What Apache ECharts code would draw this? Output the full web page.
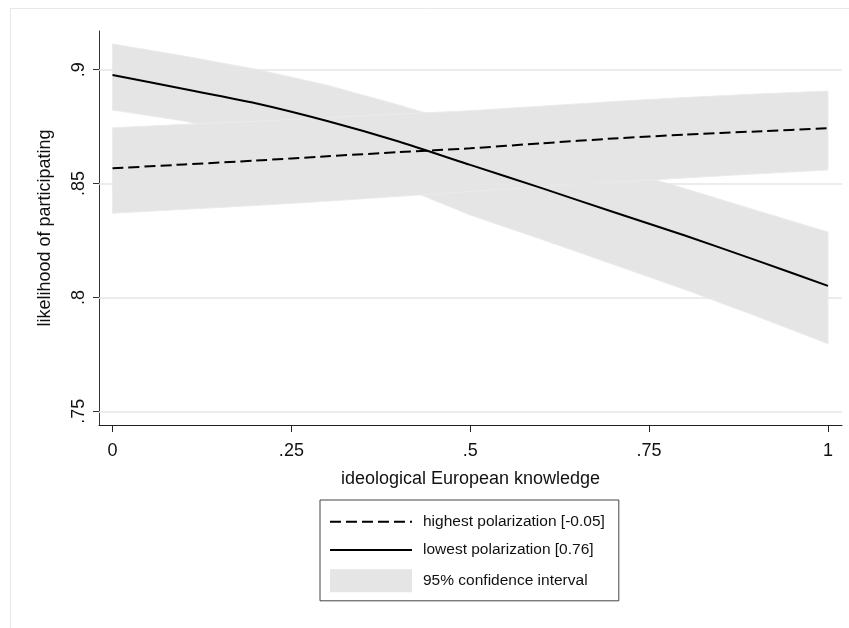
<!DOCTYPE html>
<html>
<head>
<meta charset="utf-8">
<script src="https://cdn.jsdelivr.net/npm/echarts@6/dist/echarts.min.js"></script>
<style>html,body{margin:0;padding:0;background:#fff;}#chart{width:849px;height:628px;}</style>
</head>
<body>
<div id="chart"></div>
<script>
// ---- data ----
const xValues = [0, 0.1, 0.2, 0.3, 0.4, 0.5, 0.6, 0.7, 0.8, 0.9, 1];
const highestLine  = [0.8567, 0.8584, 0.8601, 0.8620, 0.8638, 0.8655, 0.8677, 0.8698, 0.8715, 0.8729, 0.8743];
const highestUpper = [0.8745, 0.8760, 0.8773, 0.8790, 0.8805, 0.8820, 0.8840, 0.8860, 0.8878, 0.8893, 0.8906];
const highestLower = [0.8370, 0.8387, 0.8404, 0.8423, 0.8444, 0.8465, 0.8485, 0.8506, 0.8525, 0.8543, 0.8560];
const lowestLine   = [0.8977, 0.8915, 0.8853, 0.8775, 0.8685, 0.8582, 0.8480, 0.8375, 0.8272, 0.8163, 0.8051];
const lowestUpper  = [0.9113, 0.9060, 0.9002, 0.8932, 0.8845, 0.8752, 0.8660, 0.8570, 0.8478, 0.8382, 0.8287];
const lowestLower  = [0.8823, 0.8775, 0.8705, 0.8610, 0.8490, 0.8362, 0.8255, 0.8145, 0.8035, 0.7918, 0.7797];
const xTickValues = [0, 0.25, 0.5, 0.75, 1];
const yTickValues = [0.75, 0.8, 0.85, 0.9];
const seriesNames = ['highest polarization [-0.05]', 'lowest polarization [0.76]', '95% confidence interval'];
const xTitle = 'ideological European knowledge';
const yTitle = 'likelihood of participating';

const FONT = '"Liberation Sans", Arial, Helvetica, sans-serif';
const fmt = v => {
  let s = String(+v.toFixed(4));
  return s.replace(/^0\./, '.');
};
const pairs = arr => xValues.map((x, i) => [x, arr[i]]);

function bandSeries(upper, lower) {
  return {
    type: 'custom',
    name: seriesNames[2],
    z: 2,
    silent: true,
    itemStyle: { color: '#e5e5e5' },
    data: [[0, lower[0]]],
    renderItem: function (params, api) {
      const pts = [];
      for (let i = 0; i < xValues.length; i++) pts.push(api.coord([xValues[i], upper[i]]));
      for (let i = xValues.length - 1; i >= 0; i--) pts.push(api.coord([xValues[i], lower[i]]));
      return {
        type: 'polygon',
        shape: { points: pts },
        style: { fill: '#e5e5e5', stroke: '#ebebeb', lineWidth: 1 }
      };
    }
  };
}

const hiddenSymbol = { color: 'rgba(0,0,0,0)', borderWidth: 0, opacity: 0 };

const chart = echarts.init(document.getElementById('chart'), null, { renderer: 'canvas' });
chart.setOption({
  animation: false,
  backgroundColor: '#fff',
  textStyle: { fontFamily: FONT },
  graphic: [{
    type: 'rect', silent: true, z: -10,
    shape: { x: 10.5, y: 8.5, width: 900, height: 700 },
    style: { fill: 'none', stroke: '#e8e8e8', lineWidth: 1 }
  }],
  grid: { left: 99, top: 31, right: 7, bottom: 203, containLabel: false },
  xAxis: {
    type: 'value',
    min: -0.0189, max: 1.0196,
    name: xTitle,
    nameLocation: 'middle',
    nameGap: 45,
    nameTextStyle: { fontSize: 18, color: '#111', fontFamily: FONT },
    axisLine: { show: true, onZero: false, lineStyle: { color: '#222', width: 1 } },
    axisTick: { show: true, length: 7, customValues: xTickValues, lineStyle: { color: '#222' } },
    axisLabel: { customValues: xTickValues, formatter: fmt, fontSize: 18, color: '#111', margin: 17, fontFamily: FONT },
    splitLine: { show: false }
  },
  yAxis: {
    type: 'value',
    min: 0.744, max: 0.917,
    name: yTitle,
    nameLocation: 'middle',
    nameRotate: 90,
    nameGap: 45,
    nameTextStyle: { fontSize: 18, color: '#111', fontFamily: FONT },
    axisLine: { show: true, onZero: false, lineStyle: { color: '#333', width: 1 } },
    axisTick: { show: true, length: 6, customValues: yTickValues, lineStyle: { color: '#333' } },
    axisLabel: { customValues: yTickValues, formatter: fmt, rotate: 90, fontSize: 18, color: '#111', margin: 11, fontFamily: FONT },
    splitLine: { show: false }
  },
  legend: {
    orient: 'vertical',
    left: 320, top: 500,
    padding: [12.5, 14, 8.5, 9],
    itemWidth: 82, itemHeight: 23, itemGap: 10,
    borderColor: '#444', borderWidth: 1,
    textStyle: { fontSize: 15.5, color: '#111', fontFamily: FONT, padding: [0, 0, 0, 6] },
    selectedMode: false,
    data: [
      { name: seriesNames[0], itemStyle: hiddenSymbol },
      { name: seriesNames[1], itemStyle: hiddenSymbol },
      { name: seriesNames[2], icon: 'rect' }
    ]
  },
  series: [
    {
      type: 'line', name: 'grid', silent: true, z: 1,
      data: [], symbol: 'none',
      markLine: {
        silent: true, symbol: 'none', label: { show: false },
        lineStyle: { color: '#e6e6e6', width: 1.5, type: 'solid' },
        data: yTickValues.map(v => ({ yAxis: v }))
      }
    },
    bandSeries(lowestUpper, lowestLower),
    bandSeries(highestUpper, highestLower),
    {
      type: 'line', name: seriesNames[0], z: 5,
      data: pairs(highestLine), symbol: 'none', smooth: 0.2,
      itemStyle: { color: '#000' },
      lineStyle: { color: '#000', width: 2, type: [11, 5] }
    },
    {
      type: 'line', name: seriesNames[1], z: 5,
      data: pairs(lowestLine), symbol: 'none', smooth: 0.2,
      itemStyle: { color: '#000' },
      lineStyle: { color: '#000', width: 2, type: 'solid' }
    }
  ]
});
</script>
</body>
</html>
